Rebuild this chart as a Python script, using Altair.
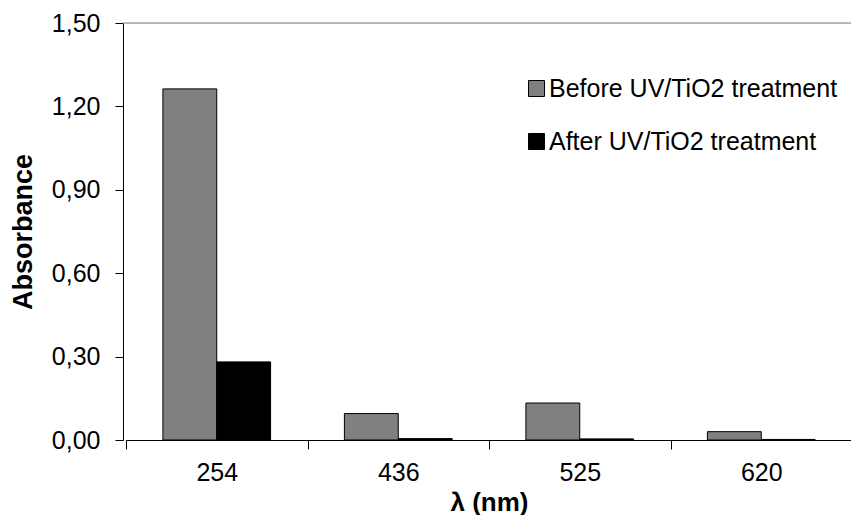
import altair as alt
import pandas as pd

wavelengths = ["254", "436", "525", "620"]
before_vals = [1.263, 0.095, 0.133, 0.030]
after_vals = [0.281, 0.005, 0.004, 0.002]
series_names = ["Before UV/TiO2 treatment", "After UV/TiO2 treatment"]
y_ticks = [0.0, 0.3, 0.6, 0.9, 1.2, 1.5]

rows = []
for w, b, a in zip(wavelengths, before_vals, after_vals):
    rows.append({"wl": w, "series": series_names[0], "value": b})
    rows.append({"wl": w, "series": series_names[1], "value": a})
df = pd.DataFrame(rows)

FONT = "Liberation Sans"

bars = alt.Chart(df).mark_bar(stroke="black", strokeWidth=1).encode(
    x=alt.X("wl:N", sort=wavelengths,
            scale=alt.Scale(paddingInner=0, paddingOuter=0, range=[3, 729]),
            axis=alt.Axis(title="λ (nm)", labelAngle=0, tickBand="extent",
                          tickSize=9, labelPadding=11, titlePadding=4,
                          domainColor="black", tickColor="black",
                          labelFontSize=25, titleFontSize=26, labelColor="black",
                          titleColor="black", labelFont=FONT, titleFont=FONT,
                          titleFontWeight="bold")),
    xOffset=alt.XOffset("series:N", sort=series_names,
                        scale=alt.Scale(paddingInner=0, paddingOuter=0.685)),
    y=alt.Y("value:Q", scale=alt.Scale(domain=[0, 1.5], nice=False),
            axis=alt.Axis(title="Absorbance", values=y_ticks, grid=False,
                          labelExpr="replace(format(datum.value, '.2f'), '.', ',')",
                          tickSize=8, labelPadding=15, titlePadding=14,
                          domainColor="black", tickColor="black",
                          labelFontSize=25, titleFontSize=27, labelColor="black",
                          titleColor="black", labelFont=FONT, titleFont=FONT,
                          titleFontWeight="bold")),
    color=alt.Color("series:N", sort=series_names,
                    scale=alt.Scale(domain=series_names, range=["#808080", "#000000"]),
                    legend=alt.Legend(title=None, orient="none", legendX=401, legendY=53,
                                      symbolType="square", symbolSize=256,
                                      symbolStrokeColor="black", symbolStrokeWidth=1,
                                      labelFontSize=25, labelFont=FONT, labelColor="black",
                                      labelOffset=0, rowPadding=27, padding=0,
                                      labelLimit=400)),
)

top_line = alt.Chart(pd.DataFrame({"v": [y_ticks[-1]]})).mark_rule(
    color="#a6a6a6", strokeWidth=1.5
).encode(y=alt.Y("v:Q"))

chart = alt.layer(bars, top_line).properties(
    width=728, height=417,
    autosize=alt.AutoSizeParams(type="none"),
    padding={"left": 115, "top": 15, "right": 0, "bottom": 75},
).configure_view(stroke=None).configure(background="white")

chart.save("out.html", embed_options={"renderer": "svg", "actions": False})
